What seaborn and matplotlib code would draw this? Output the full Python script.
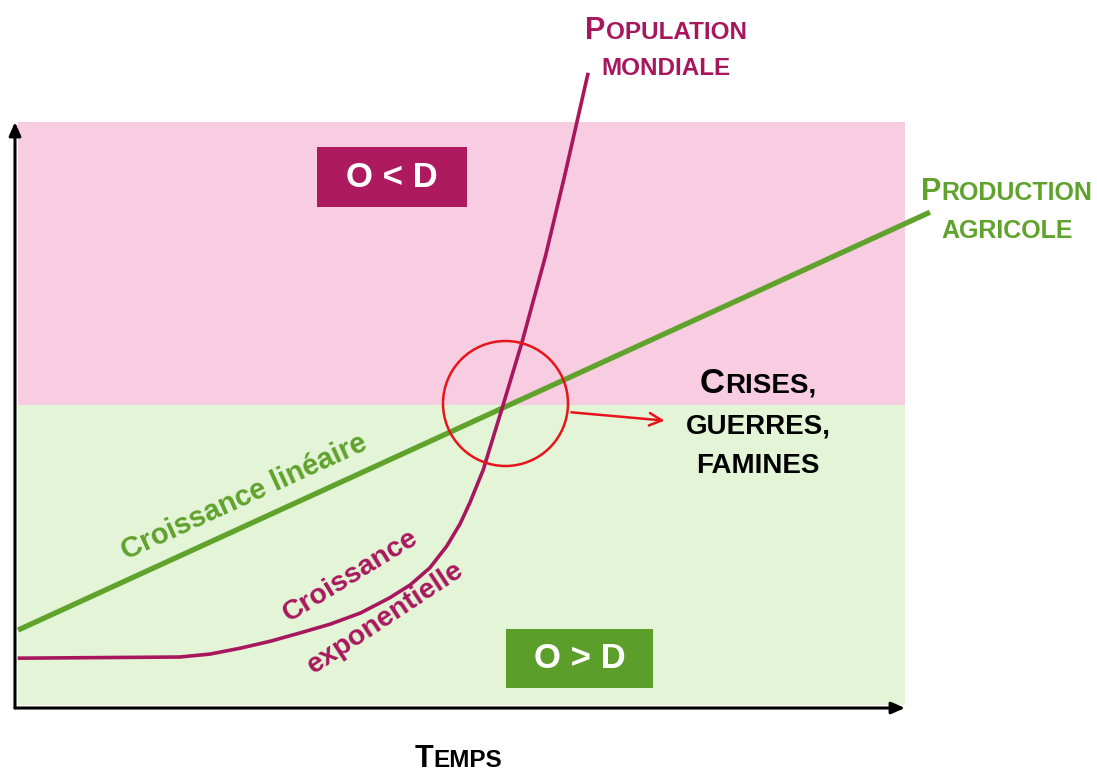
import numpy as np
import pandas as pd
import seaborn as sns
import matplotlib
matplotlib.use("Agg")
import matplotlib.pyplot as plt
from matplotlib.patches import Rectangle
from matplotlib.offsetbox import TextArea, HPacker, VPacker, AnnotationBbox

# ---- data (time 0-100, level 0-100) ----
pop_x = [0.3, 18.5, 21.9, 25.3, 28.7, 32.0, 35.4, 38.8, 42.1, 44.4, 46.6, 48.5, 50.0, 51.1,
         52.6, 54.7, 57.0, 59.6, 61.8, 64.4]
pop_y = [8.5, 8.7, 9.2, 10.2, 11.4, 12.8, 14.3, 16.2, 18.8, 21.0, 23.9, 27.6, 31.4, 35.0,
         40.6, 51.0, 62.6, 77.1, 91.1, 108.4]
prod_x = [0.34, 102.8]
prod_y = [13.3, 84.6]
threshold = 51.7
crisis_point = (55.1, 52.0)

MAG = "#A8175E"
GRN = "#5FA22C"
PINK = "#F8CDE1"
LGRN = "#E4F4D7"
FONT = "Liberation Sans"

sns.set_style("white")
plt.rcParams['font.family'] = [FONT, 'DejaVu Sans']

W, H = 1097, 772
fig = plt.figure(figsize=(W / 100, H / 100), dpi=100)
ax = fig.add_axes([15 / W, (H - 708) / H, 890 / W, 586 / H])
ax.set_xlim(0, 100)
ax.set_ylim(0, 100)
for s in ax.spines.values():
    s.set_visible(False)
ax.set_xticks([])
ax.set_yticks([])
ax.patch.set_alpha(0)

# background bands
ax.add_patch(Rectangle((0.34, threshold), 100 - 0.34, 100 - threshold, color=PINK, lw=0, zorder=0))
ax.add_patch(Rectangle((0.34, 0.5), 100 - 0.34, threshold - 0.5, color=LGRN, lw=0, zorder=0))

# curves
df_pop = pd.DataFrame({"t": pop_x, "v": pop_y})
df_prod = pd.DataFrame({"t": prod_x, "v": prod_y})
sns.lineplot(data=df_prod, x="t", y="v", color=GRN, lw=3.8, ax=ax, zorder=3, sort=False)
sns.lineplot(data=df_pop, x="t", y="v", color=MAG, lw=2.6, ax=ax, zorder=4, sort=False)
for ln in ax.lines:
    ln.set_clip_on(False)
    ln.set_solid_capstyle("butt")
    ln.set_solid_joinstyle("round")
ax.set_xlabel("")
ax.set_ylabel("")

# red circle and arrow
ax.plot([crisis_point[0]], [crisis_point[1]], marker="o", ms=90, mfc="none", mec="#E8141B", mew=1.8, zorder=5)
ax.annotate("", xy=(73.3, 49.0), xytext=(62.2, 50.5), xycoords="data",
            arrowprops=dict(arrowstyle="->,head_length=0.9,head_width=0.45", color="#E8141B", lw=1.8), zorder=5)

# axes arrows
ax.annotate("", xy=(1.0, 0), xytext=(0, 0), xycoords="axes fraction",
            arrowprops=dict(arrowstyle="-|>,head_length=0.8,head_width=0.35", color="black", lw=2.2,
                            shrinkA=0, shrinkB=0))
ax.annotate("", xy=(0, 1.0), xytext=(0, 0), xycoords="axes fraction",
            arrowprops=dict(arrowstyle="-|>,head_length=0.8,head_width=0.35", color="black", lw=2.2,
                            shrinkA=0, shrinkB=0))


def px2data(px, py):
    return (px - 15) / 8.9, (708 - py) / 5.86


# boxes
x0, y1 = px2data(317, 147)
x1, y0 = px2data(467, 207)
ax.add_patch(Rectangle((x0, y0), x1 - x0, y1 - y0, color="#AE1A5F", lw=0, zorder=6))
ax.text((x0 + x1) / 2, (y0 + y1) / 2, "O < D", color="white", fontsize=25, fontweight="bold",
        ha="center", va="center", zorder=7)
x0, y1 = px2data(506, 629)
x1, y0 = px2data(653, 688)
ax.add_patch(Rectangle((x0, y0), x1 - x0, y1 - y0, color="#5C9E2A", lw=0, zorder=6))
ax.text((x0 + x1) / 2, (y0 + y1) / 2, "O > D", color="white", fontsize=25, fontweight="bold",
        ha="center", va="center", zorder=7)

# rotated labels
cx, cy = px2data(244, 497)
ax.text(cx, cy, "Croissance linéaire", color=GRN, fontsize=21, fontweight="bold",
        rotation=24.6, ha="center", va="center", rotation_mode="anchor")
cx, cy = px2data(351, 576)
ax.text(cx, cy, "Croissance", color=MAG, fontsize=20.5, fontweight="bold",
        rotation=31.5, ha="center", va="center", rotation_mode="anchor")
cx, cy = px2data(386, 618)
ax.text(cx, cy, "exponentielle", color=MAG, fontsize=20.5, fontweight="bold",
        rotation=33.5, ha="center", va="center", rotation_mode="anchor")


# small-caps labels
def ta(s, size, color):
    return TextArea(s, textprops=dict(size=size, weight="bold", color=color, family=FONT))


def sc(first, rest, big, small, color):
    kids = []
    if first:
        kids.append(ta(first, big, color))
    kids.append(ta(rest, small, color))
    return HPacker(children=kids, align="baseline", pad=0, sep=0)


def place(box, px, py):
    ab = AnnotationBbox(box, (px, H - py), xycoords="figure pixels", frameon=False,
                        box_alignment=(0.5, 0.5), annotation_clip=False)
    fig.add_artist(ab)


place(VPacker(children=[sc("P", "OPULATION", 22, 17.5, MAG), sc("", "MONDIALE", 22, 17.5, MAG)],
              align="center", pad=0, sep=8), 666, 48)
place(VPacker(children=[sc("P", "RODUCTION", 22, 18, GRN), sc("", "AGRICOLE", 22, 18, GRN)],
              align="center", pad=0, sep=9), 1007, 210)
place(VPacker(children=[sc("C", "RISES,", 25, 20, "black"), sc("", "GUERRES,", 25, 20, "black"),
                        sc("", "FAMINES", 25, 20, "black")],
              align="center", pad=0, sep=10), 758, 423)
place(sc("T", "EMPS", 22, 17.5, "black"), 458, 759)

fig.savefig("out.png", dpi=100)
